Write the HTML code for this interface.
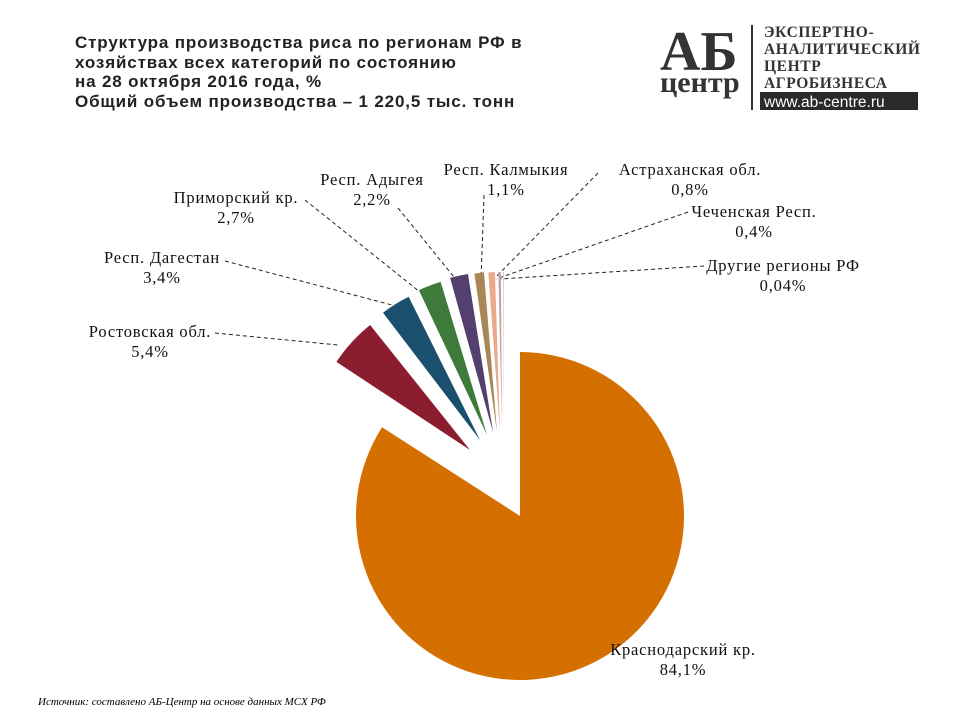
<!DOCTYPE html>
<html><head><meta charset="utf-8"><style>
body{margin:0;background:#fff;width:960px;height:720px;overflow:hidden;position:relative;font-family:"Liberation Sans",sans-serif}
.t{position:absolute;left:75px;top:33px;font-weight:bold;font-size:17px;letter-spacing:0.85px;line-height:19.5px;color:#222}
.src{position:absolute;left:38px;top:696px;font-family:"Liberation Serif",serif;font-style:italic;font-size:11px}
.lg{position:absolute;font-family:"Liberation Serif",serif;font-size:16.5px;letter-spacing:0.8px;text-align:center;line-height:20px;color:#111;white-space:nowrap;transform:translateX(-50%)}
</style></head><body>
<div class="t">Структура производства риса по регионам РФ в<br>хозяйствах всех категорий по состоянию<br>на 28 октября 2016 года, %<br>Общий объем производства – 1 220,5 тыс. тонн</div>
<svg width="960" height="720" style="position:absolute;left:0;top:0" id="s">
<g font-family="Liberation Serif,serif">
<text x="660" y="70" font-size="56" font-weight="bold" fill="#333">АБ</text>
<text x="660" y="92" font-size="30" font-weight="bold" fill="#333">центр</text>
</g>
<line x1="752" y1="25" x2="752" y2="110" stroke="#333" stroke-width="2"/>
<g font-family="Liberation Serif,serif" font-size="15.5" fill="#333" letter-spacing="0.6" font-weight="bold">
<text x="764" y="37">ЭКСПЕРТНО-</text><text x="764" y="54">АНАЛИТИЧЕСКИЙ</text><text x="764" y="71">ЦЕНТР</text><text x="764" y="88">АГРОБИЗНЕСА</text>
</g>
<rect x="760" y="92" width="158" height="18" fill="#2a2a2a"/>
<text x="764" y="107" font-family="Liberation Sans,sans-serif" font-size="15.5" fill="#fff">www.ab-centre.ru</text>
<g stroke="#222" stroke-dasharray="4,3" fill="none" stroke-width="1">
<polyline points="215,333 338,345"/>
<polyline points="225,261 392,305"/>
<polyline points="305,200 420,292"/>
<polyline points="398,208 458,282"/>
<polyline points="484,195 481,280"/>
<polyline points="598,173 493,280"/>
<polyline points="688,212 496,279"/>
<polyline points="704,266 500,279"/>
</g>
<g id="p"></g>
</svg>
<div class="lg" style="left:150px;top:322px">Ростовская обл.<br>5,4%</div>
<div class="lg" style="left:162px;top:248px">Респ. Дагестан<br>3,4%</div>
<div class="lg" style="left:236px;top:188px">Приморский кр.<br>2,7%</div>
<div class="lg" style="left:372px;top:170px">Респ. Адыгея<br>2,2%</div>
<div class="lg" style="left:506px;top:160px">Респ. Калмыкия<br>1,1%</div>
<div class="lg" style="left:690px;top:160px">Астраханская обл.<br>0,8%</div>
<div class="lg" style="left:754px;top:202px">Чеченская Респ.<br>0,4%</div>
<div class="lg" style="left:783px;top:256px">Другие регионы РФ<br>0,04%</div>
<div class="lg" style="left:683px;top:640px">Краснодарский кр.<br>84,1%</div>
<div class="src">Источник: составлено АБ-Центр на основе данных МСХ РФ</div>
<script>
function w(cx,cy,r,a0,a1,col){var R=Math.PI/180;
var x0=cx+r*Math.sin(a0*R),y0=cy-r*Math.cos(a0*R),x1=cx+r*Math.sin(a1*R),y1=cy-r*Math.cos(a1*R);
return '<path d="M'+cx+','+cy+'L'+x0+','+y0+'A'+r+','+r+' 0 '+((a1-a0)>180?1:0)+' 1 '+x1+','+y1+'Z" fill="'+col+'"/>';}
var h=w(520,516,164,0,302.76,'#D46F00');
var v=[5.4,3.4,2.7,2.2,1.1,0.8,0.4,0.04],c=['#8B1E2E','#1B4F6E','#3E7B3A','#54406E','#A88655','#E9A98A','#C9A0A0','#9C8C9C'];
var ap=[[470,450],[480,440],[487,435],[493,432],[497,432],[500,432],[502,432],[504,432]];
var a=302.76,k=57.24/16.04;
for(var i=0;i<8;i++){var d=v[i]*k;var g=i<4?1.3:0.5;if(d<1)g=0;h+=w(ap[i][0],ap[i][1],160,a+g/2,a+d-g/2,c[i]);a+=d;}
document.getElementById('p').innerHTML=h;
</script>
</body></html>
